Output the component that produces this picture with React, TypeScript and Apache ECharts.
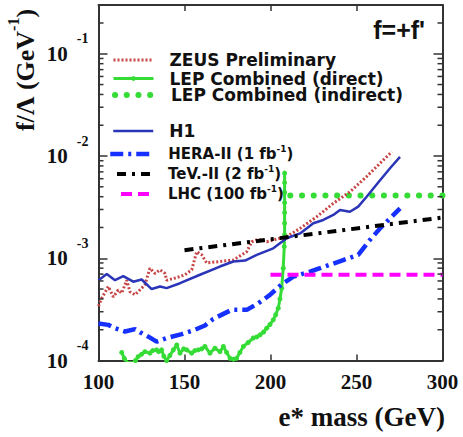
import React, { useEffect, useRef } from 'react';
import * as echarts from 'echarts';

// ---------- data ----------
const ZEUS_MASS = [100, 101.9, 105.7, 108.6, 111.5, 113.5, 116.4, 118.3, 121.2, 124.1, 127, 129.9, 132.8, 135.8, 138.7, 139.6, 144.5, 150.3, 154.2, 157.1, 160, 162.9, 170.6, 178.4, 186.2, 189.1, 192.9, 197.8, 203.6, 209.4, 217.2, 226.9, 236.5, 246.2, 255.9, 263.7, 270.5];
const ZEUS_LIMIT = [3.4e-4, 4.07e-4, 5.3e-4, 4.2e-4, 4.9e-4, 4.55e-4, 6.1e-4, 4.7e-4, 4.4e-4, 4.9e-4, 5.5e-4, 8.0e-4, 7.1e-4, 7.7e-4, 7.1e-4, 6.1e-4, 6.4e-4, 6.9e-4, 7.7e-4, 1.16e-3, 1.08e-3, 9.0e-4, 9.3e-4, 9.6e-4, 1.16e-3, 1.45e-3, 1.54e-3, 1.45e-3, 1.54e-3, 1.63e-3, 1.96e-3, 2.55e-3, 3.44e-3, 4.47e-3, 6.3e-3, 8.5e-3, 1.1e-2];

const LEP_DIRECT_MASS = [113.5, 115, 117, 120, 121.5, 123, 125, 127, 129.9, 131.5, 133.8, 135, 136.7, 138, 139.6, 141.5, 143.5, 145.5, 147.4, 149.5, 151.3, 154.2, 156, 158, 160, 161.9, 164.8, 167.7, 170.6, 172.6, 174.5, 176.5, 178.5, 180.3, 182.2, 184.2, 187, 190, 192, 193.9, 196, 197.8, 199.7, 201.6, 203, 204.5, 205.5, 206.5, 207.4, 208, 208.2, 208.2, 208.2, 208.2, 208.2, 208.2, 208.2];
const LEP_DIRECT_LIMIT = [1.2e-4, 1.05e-4, 9.5e-5, 9.5e-5, 1.0e-4, 1.09e-4, 1.15e-4, 1.22e-4, 1.18e-4, 1.25e-4, 1.27e-4, 1.22e-4, 1.27e-4, 1.1e-4, 1.0e-4, 1.12e-4, 1.27e-4, 1.42e-4, 1.18e-4, 1.3e-4, 1.27e-4, 1.18e-4, 1.25e-4, 1.27e-4, 1.3e-4, 1.37e-4, 1.18e-4, 1.32e-4, 1.22e-4, 1.37e-4, 1.2e-4, 1.05e-4, 1.03e-4, 1.05e-4, 1.2e-4, 1.37e-4, 1.5e-4, 1.66e-4, 1.7e-4, 1.78e-4, 1.9e-4, 2.07e-4, 2.25e-4, 2.5e-4, 2.8e-4, 3.25e-4, 4.0e-4, 5.1e-4, 8.0e-4, 1.3e-3, 1.7e-3, 2.2e-3, 2.8e-3, 3.5e-3, 4.4e-3, 5.5e-3, 6.8e-3];

const LEP_INDIRECT_MASS = [211.5, 300];
const LEP_INDIRECT_LIMIT = [4.1e-3, 4.1e-3];

const H1_MASS = [100, 104.8, 109.6, 114.4, 120.2, 125.1, 130.9, 135.8, 139.6, 147.4, 159, 170.6, 178.4, 185.2, 192, 201.6, 209.4, 217.2, 224.9, 230.7, 236.5, 240.4, 246.2, 251, 255.9, 263.7, 269.5, 275.3];
const H1_LIMIT = [6.1e-4, 7.0e-4, 6.1e-4, 6.7e-4, 5.9e-4, 6.2e-4, 5.0e-4, 5.3e-4, 5.1e-4, 5.7e-4, 6.9e-4, 8.3e-4, 9.3e-4, 9.5e-4, 1.08e-3, 1.25e-3, 1.57e-3, 1.75e-3, 2.2e-3, 2.37e-3, 2.65e-3, 2.96e-3, 2.85e-3, 3.2e-3, 4.0e-3, 5.8e-3, 7.6e-3, 9.8e-3];

const HERA_MASS = [100, 105.7, 109.6, 115.4, 121.2, 124.1, 129, 133.8, 139.6, 148.4, 156.1, 161.9, 166.7, 177.4, 186.2, 192.9, 199.7, 206.5, 213.3, 223, 228.8, 242.3, 251, 257.8, 263.7, 269.5, 275.3];
const HERA_LIMIT = [2.3e-4, 2.23e-4, 2.07e-4, 1.92e-4, 2.03e-4, 1.89e-4, 1.71e-4, 1.53e-4, 1.66e-4, 1.81e-4, 2.0e-4, 2.2e-4, 2.55e-4, 3.13e-4, 3.13e-4, 3.63e-4, 4.38e-4, 5.57e-4, 6.6e-4, 7.4e-4, 8.0e-4, 9.6e-4, 1.08e-3, 1.51e-3, 1.96e-3, 2.46e-3, 3.08e-3];

const TEV_MASS = [150, 300];
const TEV_LIMIT = [1.2e-3, 2.5e-3];

const LHC_MASS = [200, 300];
const LHC_LIMIT = [6.9e-4, 6.9e-4];

const X_TICKS = [100, 150, 200, 250, 300];
const Y_DECADES = [1e-4, 1e-3, 1e-2, 1e-1];
const MINOR_MULT = [2, 3, 4, 5, 6, 7, 8, 9];

const NAMES = {
  zeus: 'ZEUS Preliminary',
  lepD: 'LEP Combined (direct)',
  lepI: 'LEP Combined (indirect)',
  h1: 'H1',
  hera: 'HERA-II (1 fb-1)',
  tev: 'TeV.-II (2 fb-1)',
  lhc: 'LHC (100 fb-1)',
};

const zip = (xs: number[], ys: number[]) => xs.map((x, i) => [x, ys[i]]);

const SERIF = '"Liberation Serif", "Times New Roman", serif';
const SANS = '"DejaVu Sans", Arial, sans-serif';
const FRAME = '#333';
const GREEN = '#36dc36';

export default function App() {
  const ref = useRef<HTMLDivElement>(null);
  useEffect(() => {
    document.body.style.margin = '0';
    const chart = echarts.init(ref.current!, null, { renderer: 'svg' });

    const XMIN = X_TICKS[0];
    const XMAX = X_TICKS[X_TICKS.length - 1];
    const YMIN = Y_DECADES[0];
    const YMAX = 0.3;

    const minorValues: number[] = [];
    Y_DECADES.forEach((d) => MINOR_MULT.forEach((m) => {
      const v = d * m;
      if (v < YMAX * 0.99) minorValues.push(v);
    }));

    const axisLine = { show: true, lineStyle: { color: FRAME, width: 2 } };

    const legendBase = (name: string, rowY: number, iconW: number, fontSize: number, textPad: number, hasSup: boolean, lineW: number, showSymbol = false) => {
      const itemH = showSymbol ? 6 : 14;
      return {
        data: [name],
        orient: 'horizontal',
        left: 152 - iconW,
        top: hasSup ? rowY - 10 : rowY - itemH / 2 - (showSymbol ? 4.5 : 1.5),
        padding: 0,
        itemWidth: iconW,
        itemHeight: itemH,
        selectedMode: false,
        itemStyle: showSymbol ? {} : { opacity: 0 },
        lineStyle: { width: lineW },
        formatter: (n: string) => (hasSup ? n.replace('fb-1', 'fb{s|-1}') : n),
        textStyle: {
          fontFamily: SANS,
          fontWeight: 'bold',
          fontSize,
          color: '#111',
          lineHeight: 14,
          padding: [0, 0, 0, textPad],
          rich: {
            s: { fontFamily: SANS, fontWeight: 'bold', fontSize: 9, color: '#111', padding: [0, 0, 11, 0] },
          },
        },
      };
    };

    const option: any = {
      animation: false,
      backgroundColor: '#fff',
      grid: { left: 98.5, right: 20.5, top: 5, bottom: 76.5, containLabel: false },
      xAxis: [
        {
          type: 'value', min: XMIN, max: XMAX, interval: 50, position: 'bottom',
          axisLine,
          axisTick: { show: true, inside: true, length: 6, lineStyle: { color: FRAME, width: 1.5 } },
          axisLabel: { fontFamily: SERIF, fontWeight: 'bold', fontSize: 21, color: '#111', margin: 11 },
          splitLine: { show: false },
        },
        {
          type: 'value', min: XMIN, max: XMAX, interval: 50, position: 'top',
          axisLine,
          axisTick: { show: true, inside: true, length: 6, lineStyle: { color: FRAME, width: 1.5 } },
          axisLabel: { show: false },
          splitLine: { show: false },
        },
      ],
      yAxis: [
        {
          type: 'log', logBase: 10, min: YMIN, max: YMAX, position: 'left',
          axisLine,
          axisTick: { show: true, inside: true, length: 9, lineStyle: { color: FRAME, width: 1.5 } },
          axisLabel: {
            margin: 10,
            showMaxLabel: false,
            formatter: (v: number) => {
              const e = Math.log10(v);
              if (Math.abs(e - Math.round(e)) > 1e-6) return '';
              return `{b|10}{s|${Math.round(e)}}`;
            },
            rich: {
              b: { fontFamily: SERIF, fontWeight: 'bold', fontSize: 21, color: '#111' },
              s: { fontFamily: SERIF, fontWeight: 'bold', fontSize: 14, color: '#111', padding: [0, 0, 30, 9] },
            },
          },
          splitLine: { show: false },
        },
        {
          type: 'log', logBase: 10, min: YMIN, max: YMAX, position: 'right',
          axisLine,
          axisTick: { show: true, inside: true, length: 9, lineStyle: { color: FRAME, width: 1.5 } },
          axisLabel: { show: false },
          splitLine: { show: false },
        },
      ],
      legend: [
        legendBase(NAMES.zeus, 60, 40, 17, 11, false, 3),
        legendBase(NAMES.lepD, 77.5, 40, 17, 11, false, 3, true),
        legendBase(NAMES.lepI, 95, 40, 17, 11, false, 6),
        legendBase(NAMES.h1, 131, 40, 17, 11, false, 2.5),
        legendBase(NAMES.hera, 154, 44, 15, 9, true, 4.5),
        legendBase(NAMES.tev, 174, 37, 15, 9, true, 4),
        legendBase(NAMES.lhc, 194, 33, 15, 9, true, 4),
      ],
      graphic: [
        {
          type: 'text', x: 425, y: 30,
          style: { text: "f=+f'", fontFamily: '"Liberation Sans", Arial, sans-serif', fontWeight: 'bold', fontSize: 25, fill: '#111', align: 'right', verticalAlign: 'middle' },
        },
        {
          type: 'text', x: 445, y: 417,
          style: { text: 'e* mass (GeV)', fontFamily: SERIF, fontWeight: 'bold', fontSize: 27, fill: '#111', align: 'right', verticalAlign: 'middle' },
        },
        {
          type: 'text', x: 25, y: 70, rotation: Math.PI / 2,
          style: {
            text: '{a|f/Λ (GeV}{s|-1}{a|)}',
            align: 'center', verticalAlign: 'middle',
            rich: {
              a: { fontFamily: SERIF, fontWeight: 'bold', fontSize: 26, fill: '#111' },
              s: { fontFamily: SERIF, fontWeight: 'bold', fontSize: 16, fill: '#111', padding: [0, 0, 24, 0] },
            },
          },
        },
      ],
      series: [
        {
          name: NAMES.lepD, type: 'line', data: zip(LEP_DIRECT_MASS, LEP_DIRECT_LIMIT),
          symbol: 'circle', symbolSize: 5, showSymbol: true,
          itemStyle: { color: GREEN },
          lineStyle: { color: GREEN, width: 3 }, z: 2,
        },
        {
          name: NAMES.lepI, type: 'line', data: zip(LEP_INDIRECT_MASS, LEP_INDIRECT_LIMIT),
          symbol: 'none', itemStyle: { color: GREEN },
          lineStyle: { color: GREEN, width: 6, type: [0.1, 11.6], cap: 'round' }, z: 2,
        },
        {
          name: NAMES.zeus, type: 'line', data: zip(ZEUS_MASS, ZEUS_LIMIT),
          symbol: 'none', itemStyle: { color: '#c84545' },
          lineStyle: { color: '#c84545', width: 3, type: [2, 2] }, z: 3,
        },
        {
          name: NAMES.h1, type: 'line', data: zip(H1_MASS, H1_LIMIT),
          symbol: 'none', itemStyle: { color: '#2a35b8' },
          lineStyle: { color: '#2a35b8', width: 2.5 }, z: 3,
        },
        {
          name: NAMES.hera, type: 'line', data: zip(HERA_MASS, HERA_LIMIT),
          symbol: 'none', itemStyle: { color: '#1530ff' },
          lineStyle: { color: '#1530ff', width: 4.5, type: [13, 5, 3, 5] }, z: 4,
        },
        {
          name: NAMES.tev, type: 'line', data: zip(TEV_MASS, TEV_LIMIT),
          symbol: 'none', itemStyle: { color: '#000' },
          lineStyle: { color: '#000', width: 4, type: [9, 6, 3, 6] }, z: 4,
        },
        {
          name: NAMES.lhc, type: 'line', data: zip(LHC_MASS, LHC_LIMIT),
          symbol: 'none', itemStyle: { color: '#f0f' },
          lineStyle: { color: '#f0f', width: 4, type: [11, 6] }, z: 4,
        },
        {
          name: 'minor ticks', type: 'custom', silent: true, xAxisIndex: 0, yAxisIndex: 0, z: 10,
          data: minorValues.map((v) => [XMIN, v]),
          renderItem: (params: any, api: any) => {
            const cs = params.coordSys;
            const y = api.coord([XMIN, api.value(1)])[1];
            const st = { stroke: FRAME, lineWidth: 1.5 };
            return {
              type: 'group',
              children: [
                { type: 'line', shape: { x1: cs.x, y1: y, x2: cs.x + 5, y2: y }, style: st },
                { type: 'line', shape: { x1: cs.x + cs.width - 5, y1: y, x2: cs.x + cs.width, y2: y }, style: st },
              ],
            };
          },
        },
      ],
    };

    chart.setOption(option);
    return () => chart.dispose();
  }, []);
  return <div ref={ref} style={{ width: 463, height: 437 }} />;
}
